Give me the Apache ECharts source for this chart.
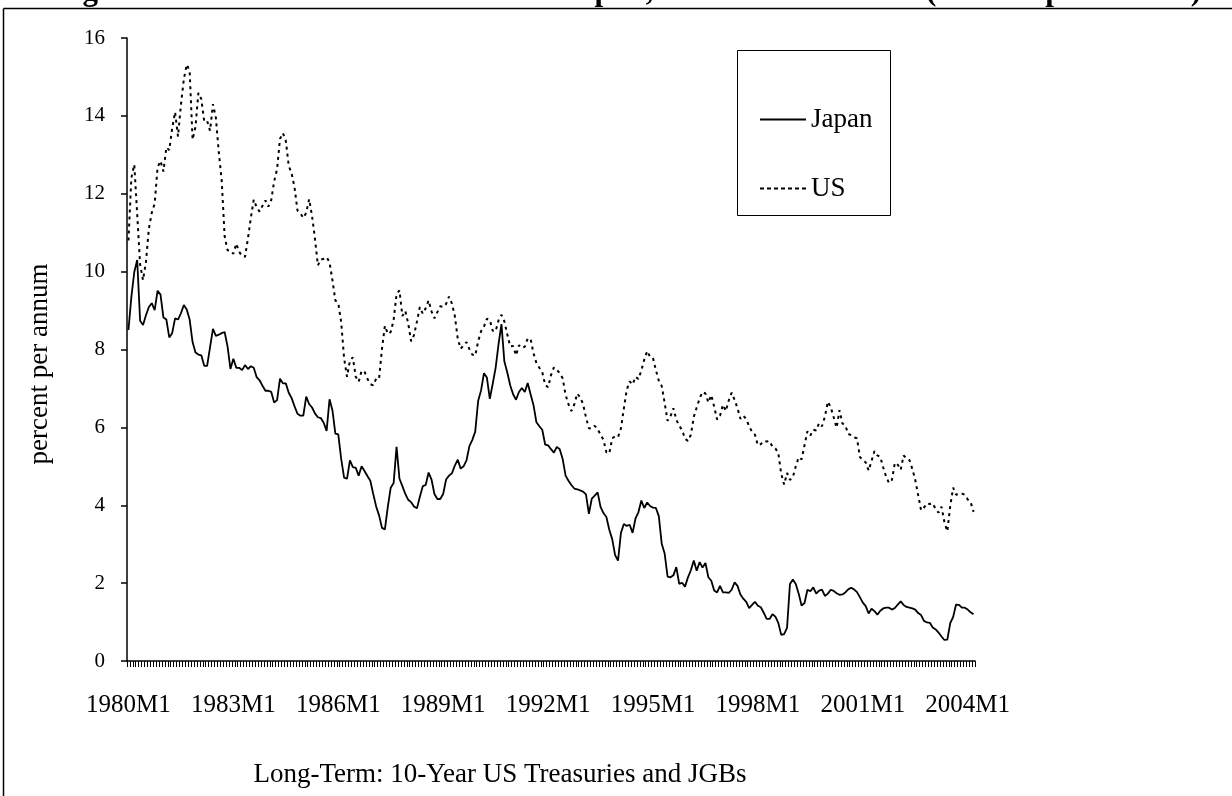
<!DOCTYPE html>
<html><head><meta charset="utf-8">
<script src="https://cdn.jsdelivr.net/npm/echarts@6/dist/echarts.min.js"></script>
<style>html,body{margin:0;padding:0;background:#fff}#c{width:1232px;height:796px}</style>
</head><body><div id="c"></div>
<script>
// Monthly categories 1980M1 .. 2004M3
const startYear = 1980, endYear = 2004, endMonth = 3;
const months = [];
for (let y = startYear; y <= endYear; y++) {
  for (let m = 1; m <= 12; m++) {
    if (y === endYear && m > endMonth) break;
    months.push(y + 'M' + m);
  }
}
// Japan: 10-year JGB yield (percent per annum)
const japan = [
 8.50,9.35,9.99,10.30,8.74,8.63,8.88,9.09,9.19,9.01,9.51,9.41,
 8.82,8.77,8.31,8.42,8.80,8.77,8.93,9.14,9.03,8.77,8.19,7.92,
 7.87,7.85,7.58,7.58,8.06,8.53,8.35,8.38,8.42,8.45,8.08,7.50,
 7.76,7.53,7.53,7.47,7.60,7.50,7.57,7.53,7.29,7.21,7.07,6.94,
 6.94,6.91,6.64,6.70,7.25,7.13,7.13,6.89,6.75,6.54,6.35,6.30,
 6.30,6.79,6.60,6.51,6.36,6.26,6.24,6.12,5.91,6.72,6.44,5.84,
 5.82,5.19,4.71,4.68,5.15,4.98,4.96,4.76,5.00,4.88,4.75,4.63,
 4.29,3.97,3.74,3.42,3.38,3.96,4.45,4.57,5.50,4.68,4.49,4.29,
 4.14,4.08,3.97,3.92,4.22,4.49,4.52,4.84,4.66,4.29,4.16,4.16,
 4.29,4.66,4.76,4.82,5.02,5.17,4.94,5.00,5.15,5.52,5.68,5.89,
 6.68,6.95,7.39,7.28,6.73,7.12,7.53,8.14,8.65,7.69,7.41,7.08,
 6.85,6.71,6.91,7.01,6.91,7.14,6.85,6.57,6.13,6.03,5.94,5.56,
 5.54,5.44,5.35,5.50,5.44,5.19,4.76,4.63,4.52,4.43,4.41,4.38,
 4.35,4.28,3.78,4.17,4.25,4.33,3.96,3.80,3.70,3.37,3.13,2.72,
 2.58,3.29,3.52,3.47,3.50,3.29,3.66,3.82,4.12,3.93,4.07,3.98,
 3.94,3.93,3.72,3.01,2.76,2.17,2.15,2.20,2.41,1.98,2.01,1.91,
 2.15,2.33,2.58,2.32,2.54,2.40,2.52,2.15,2.06,1.81,1.76,1.93,
 1.76,1.76,1.75,1.83,2.02,1.93,1.71,1.60,1.52,1.36,1.44,1.52,
 1.42,1.38,1.24,1.08,1.08,1.20,1.14,0.98,0.67,0.69,0.85,1.98,
 2.09,1.98,1.73,1.42,1.49,1.83,1.79,1.89,1.73,1.81,1.83,1.67,
 1.73,1.83,1.80,1.74,1.70,1.71,1.76,1.84,1.88,1.84,1.77,1.64,
 1.50,1.41,1.22,1.34,1.28,1.19,1.29,1.35,1.37,1.37,1.32,1.36,
 1.45,1.53,1.44,1.39,1.37,1.35,1.32,1.23,1.18,1.03,0.99,0.98,
 0.86,0.81,0.73,0.63,0.54,0.55,0.97,1.13,1.45,1.44,1.37,1.37,
 1.32,1.25,1.20
];
// US: 10-year Treasury yield (percent per annum)
const us = [
 10.80,12.41,12.75,11.47,10.18,9.78,10.25,11.10,11.51,11.75,12.68,12.84,
 12.57,13.19,13.12,13.68,14.10,13.47,14.28,14.94,15.32,15.15,13.39,13.72,
 14.59,14.43,13.86,13.87,13.62,14.30,13.95,13.06,12.34,10.91,10.55,10.54,
 10.46,10.72,10.51,10.40,10.38,10.85,11.38,11.85,11.65,11.54,11.69,11.83,
 11.67,11.84,12.32,12.63,13.41,13.56,13.36,12.72,12.52,12.16,11.57,11.50,
 11.38,11.51,11.86,11.43,10.85,10.16,10.31,10.33,10.37,10.24,9.78,9.26,
 9.19,8.70,7.78,7.30,7.71,7.80,7.30,7.17,7.45,7.43,7.25,7.11,
 7.08,7.25,7.25,8.02,8.61,8.40,8.45,8.76,9.42,9.52,8.86,8.99,
 8.67,8.21,8.37,8.72,9.09,8.92,9.06,9.26,8.98,8.80,8.96,9.11,
 9.09,9.17,9.36,9.18,8.86,8.28,8.02,8.11,8.19,8.01,7.87,7.84,
 8.21,8.47,8.59,8.79,8.76,8.48,8.47,8.75,8.89,8.72,8.39,8.08,
 8.09,7.85,8.11,8.04,8.07,8.28,8.27,7.90,7.65,7.53,7.42,7.09,
 7.03,7.34,7.54,7.48,7.39,7.26,6.84,6.59,6.42,6.59,6.87,6.77,
 6.60,6.26,5.98,5.97,6.04,5.96,5.81,5.68,5.36,5.33,5.72,5.77,
 5.75,5.97,6.48,6.97,7.18,7.10,7.30,7.24,7.46,7.74,7.96,7.81,
 7.78,7.47,7.20,7.06,6.63,6.17,6.28,6.49,6.20,6.04,5.93,5.71,
 5.65,5.81,6.27,6.51,6.74,6.91,6.87,6.64,6.83,6.53,6.20,6.30,
 6.58,6.42,6.69,6.89,6.71,6.49,6.22,6.30,6.21,6.03,5.88,5.81,
 5.54,5.57,5.65,5.64,5.65,5.50,5.46,5.34,4.81,4.53,4.83,4.65,
 4.72,5.00,5.23,5.18,5.54,5.90,5.79,5.94,5.92,6.11,6.03,6.28,
 6.66,6.52,6.26,5.99,6.44,6.10,6.05,5.83,5.80,5.74,5.72,5.24,
 5.16,5.10,4.89,5.14,5.39,5.28,5.24,4.97,4.73,4.57,4.65,5.09,
 5.04,4.91,5.28,5.21,5.16,4.93,4.65,4.26,3.87,3.94,4.05,4.03,
 4.05,3.90,3.81,3.96,3.57,3.33,3.98,4.45,4.27,4.29,4.30,4.27,
 4.15,4.08,3.83
];
const yMin = 0, yMax = 16, yStep = 2;
const labelEvery = 36;
const seriesNames = ['Japan', 'US'];
const titleText = 'Figure 3: Interest Rates in the US and Japan; Selected Maturities (Percent per annum)';
const subTitle = 'Long-Term: 10-Year US Treasuries and JGBs';
const yName = 'percent per annum';

const FONT = "'Liberation Serif', 'Times New Roman', serif";
const solidIcon = 'path://M0,0H46V2H0Z';
const dashIcon = 'path://M0,0H4V2H0Z M7,0H11V2H7Z M14,0H18V2H14Z M21,0H25V2H21Z M28,0H32V2H28Z M35,0H39V2H35Z M42,0H46V2H42Z';

const chart = echarts.init(document.getElementById('c'), null, {renderer: 'canvas'});
chart.setOption({
  animation: false,
  backgroundColor: '#ffffff',
  grid: {left: 127, right: 257, top: 38, bottom: 135, containLabel: false},
  legend: {
    data: [{name: seriesNames[0], icon: solidIcon}, {name: seriesNames[1], icon: dashIcon}],
    orient: 'vertical', left: 755, top: 101,
    itemWidth: 46, itemHeight: 2, itemGap: 42,
    textStyle: {fontFamily: FONT, fontSize: 27, color: '#000'},
    itemStyle: {color: '#000', borderWidth: 0}
  },
  xAxis: {
    type: 'category', data: months, boundaryGap: true,
    axisLine: {lineStyle: {color: '#000', width: 1.5}},
    axisTick: {show: true, interval: 0, length: 6, lineStyle: {color: '#000', width: 1}},
    axisLabel: {interval: (i) => i % labelEvery === 0, margin: 32, fontFamily: FONT, fontSize: 25, color: '#000'},
    splitLine: {show: false}
  },
  yAxis: {
    type: 'value', min: yMin, max: yMax, interval: yStep,
    axisLine: {show: true, lineStyle: {color: '#000', width: 1.5}},
    axisTick: {show: true, length: 6, lineStyle: {color: '#000', width: 1.5}},
    axisLabel: {margin: 22, fontFamily: FONT, fontSize: 21, color: '#000'},
    splitLine: {show: false}
  },
  series: [
    {name: seriesNames[0], type: 'line', data: japan, showSymbol: false, symbol: 'none',
     lineStyle: {color: '#000', width: 1.8, type: 'solid'}, itemStyle: {color: '#000'}},
    {name: seriesNames[1], type: 'line', data: us, showSymbol: false, symbol: 'none',
     lineStyle: {color: '#000', width: 2, type: [3, 4]}, itemStyle: {color: '#000'}}
  ],
  graphic: [
    {type: 'text', x: 628, y: 7, style: {text: titleText, font: "bold 31px " + FONT, fill: '#000', textAlign: 'center', textVerticalAlign: 'bottom'}},
    {type: 'line', shape: {x1: 3.5, y1: 8.5, x2: 1232, y2: 8.5}, style: {stroke: '#000', lineWidth: 1.5}, z: 20},
    {type: 'line', shape: {x1: 3.5, y1: 8.5, x2: 3.5, y2: 796}, style: {stroke: '#000', lineWidth: 1.5}},
    {type: 'rect', shape: {x: 737.5, y: 50.5, width: 153, height: 165}, style: {fill: 'none', stroke: '#000', lineWidth: 1}, z: 10},
    {type: 'text', x: 40, y: 364, rotation: Math.PI / 2, style: {text: yName, font: "27px " + FONT, fill: '#000', textAlign: 'center', textVerticalAlign: 'middle'}},
    {type: 'text', x: 500, y: 775, style: {text: subTitle, font: "27px " + FONT, fill: '#000', textAlign: 'center', textVerticalAlign: 'middle'}}
  ]
});
</script></body></html>
